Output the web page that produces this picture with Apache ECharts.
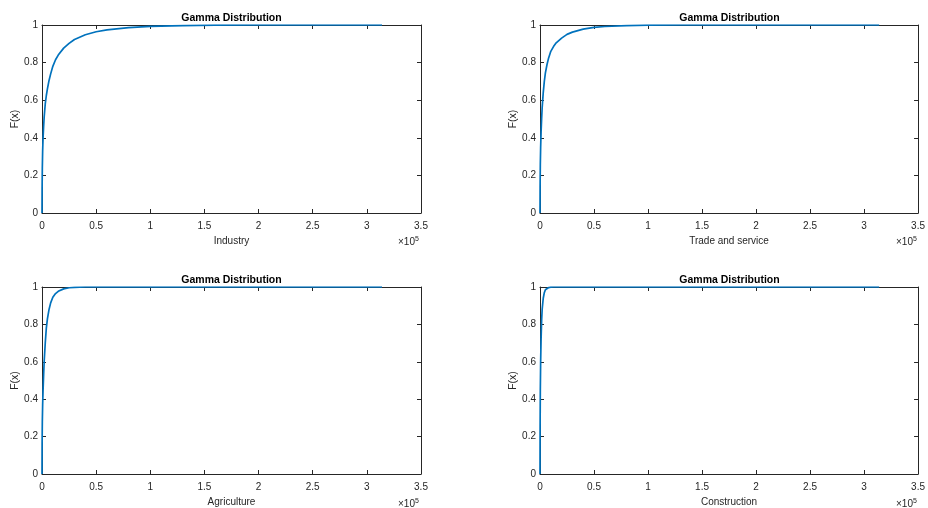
<!DOCTYPE html>
<html>
<head>
<meta charset="utf-8">
<script src="https://cdn.jsdelivr.net/npm/echarts@6/dist/echarts.min.js"></script>
<style>
html,body{margin:0;padding:0;background:#fff;}
#c{width:928px;height:508px;}
</style>
</head>
<body>
<div id="c"></div>
<script>
// Sample x positions (sector value) and read CDF values
const xs = [0, 100, 300, 600, 1000, 1500, 2000, 3000, 4000, 5000, 6500, 8000, 10000, 12500, 15000, 20000, 25000, 30000, 40000, 50000, 60000, 80000, 100000, 130000, 160000, 200000, 314000];
const industry     = [0, 0.13, 0.24, 0.33, 0.40, 0.46, 0.51, 0.58, 0.625, 0.66, 0.705, 0.74, 0.78, 0.815, 0.84, 0.877, 0.902, 0.923, 0.948, 0.964, 0.974, 0.986, 0.993, 0.997, 0.999, 1, 1];
const tradeService = [0, 0.14, 0.26, 0.35, 0.43, 0.50, 0.56, 0.64, 0.70, 0.745, 0.79, 0.825, 0.86, 0.885, 0.905, 0.93, 0.95, 0.962, 0.978, 0.987, 0.992, 0.997, 0.999, 1, 1, 1, 1];
const agriculture  = [0, 0.16, 0.28, 0.37, 0.45, 0.53, 0.60, 0.70, 0.78, 0.83, 0.88, 0.915, 0.945, 0.965, 0.977, 0.99, 0.996, 0.998, 1, 1, 1, 1, 1, 1, 1, 1, 1];
const construction = [0, 0.25, 0.45, 0.60, 0.72, 0.82, 0.88, 0.94, 0.97, 0.985, 0.994, 0.997, 0.999, 1, 1, 1, 1, 1, 1, 1, 1, 1, 1, 1, 1, 1, 1];
const sectorNames = ['Industry', 'Trade and service', 'Agriculture', 'Construction'];
const seriesVals = [industry, tradeService, agriculture, construction];
const chartTitle = 'Gamma Distribution';
const yName = 'F(x)';

const FONT = '"Liberation Sans", Arial, Helvetica, sans-serif';
const AX = '#262626';
const grids = [
  {left: 42, top: 25, width: 379, height: 188},
  {left: 540, top: 25, width: 379, height: 188},
  {left: 42, top: 287, width: 379, height: 188},
  {left: 540, top: 287, width: 379, height: 188}
];

const titleGraphics = grids.map(g => ({
  type: 'text',
  x: g.left + g.width / 2,
  y: g.top - 7,
  style: {
    text: chartTitle, textAlign: 'center', textVerticalAlign: 'middle',
    fontFamily: FONT, fontSize: 10.5, fontWeight: 'bold', fill: '#000'
  }
}));
const expGraphics = grids.map(g => ({
  type: 'text',
  left: g.left + g.width - 23,
  top: g.top + g.height + 23,
  style: {
    text: '×10{s|5}',
    fontFamily: FONT, fontSize: 10, fill: AX,
    rich: {s: {fontSize: 7, verticalAlign: 'top', padding: [0, 0, 6, 0], fontFamily: FONT, fill: AX}}
  }
}));

const option = {
  animation: false,
  backgroundColor: '#fff',
  grid: grids.map(g => Object.assign({containLabel: false}, g)),
  xAxis: [],
  yAxis: [],
  series: [],
  graphic: titleGraphics.concat(expGraphics)
};

grids.forEach((g, i) => {
  const common = {
    gridIndex: i,
    type: 'value',
    axisLine: {show: true, onZero: false, lineStyle: {color: AX, width: 1}},
    axisTick: {show: true, inside: true, length: 4, lineStyle: {color: AX}},
    splitLine: {show: false}
  };
  option.xAxis.push(Object.assign({}, common, {
    position: 'bottom', min: 0, max: 350000, interval: 50000,
    name: sectorNames[i], nameLocation: 'middle', nameGap: 23,
    nameTextStyle: {fontFamily: FONT, fontSize: 10, color: AX},
    axisLabel: {fontFamily: FONT, fontSize: 10, color: AX, margin: 8,
      formatter: v => String(Math.round(v / 5000) / 20)}
  }));
  option.xAxis.push(Object.assign({}, common, {
    position: 'top', min: 0, max: 350000, interval: 50000,
    axisLabel: {show: false}
  }));
  option.yAxis.push(Object.assign({}, common, {
    position: 'left', min: 0, max: 1, interval: 0.2,
    name: yName, nameLocation: 'middle', nameGap: 19,
    nameTextStyle: {fontFamily: FONT, fontSize: 10.5, color: AX},
    axisLabel: {fontFamily: FONT, fontSize: 10, color: AX, margin: 4,
      formatter: v => String(Math.round(v * 10) / 10)}
  }));
  option.yAxis.push(Object.assign({}, common, {
    position: 'right', min: 0, max: 1, interval: 0.2,
    axisLabel: {show: false}
  }));
  option.series.push({
    type: 'line',
    xAxisIndex: i * 2,
    yAxisIndex: i * 2,
    data: xs.map((x, k) => [x, seriesVals[i][k]]),
    showSymbol: false,
    smooth: false,
    lineStyle: {color: '#0072BD', width: 1.7},
    itemStyle: {color: '#0072BD'}
  });
});

const chart = echarts.init(document.getElementById('c'), null, {renderer: 'canvas'});
chart.setOption(option);
</script>
</body>
</html>
